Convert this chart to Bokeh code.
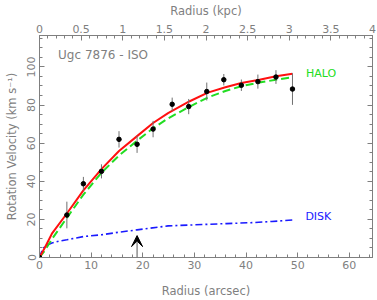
from bokeh.plotting import figure
from bokeh.models import (Range1d, LinearAxis, SingleIntervalTicker, Arrow, VeeHead,
                          CustomLabelingPolicy)
from bokeh.core.properties import value
from bokeh.embed import file_html
from bokeh.resources import INLINE

# observed rotation curve (arcsec, km/s, error)
obs_r = [0.0, 5.3, 8.5, 12.0, 15.4, 18.9, 22.0, 25.7, 28.9, 32.4, 35.7, 39.1, 42.3, 45.8, 49.0]
obs_v = [0.0, 22.3, 38.7, 45.2, 62.0, 59.4, 67.4, 80.4, 79.2, 87.1, 93.3, 90.4, 92.3, 94.7, 88.4]
obs_e = [0.0, 7.0, 3.6, 3.7, 4.3, 4.5, 4.3, 3.5, 4.0, 4.7, 3.0, 3.0, 3.7, 3.6, 8.3]

# total model (red)
tot_r = [0.0, 1.0, 2.4, 5.3, 8.5, 12.0, 15.4, 18.9, 22.0, 24.9, 29.1, 32.6, 36.0, 39.1, 42.6, 45.8, 49.0]
tot_v = [0.0, 5.0, 12.5, 23.1, 35.2, 46.4, 55.9, 63.7, 70.6, 75.8, 82.0, 86.5, 89.3, 91.6, 93.3, 95.1, 96.4]

# halo model (green dashed)
halo_r = [0.0, 1.0, 2.5, 5.3, 8.5, 12.0, 15.4, 18.9, 22.0, 24.9, 29.1, 32.6, 36.0, 39.1, 42.6, 45.8, 48.6]
halo_v = [0.0, 3.5, 10.0, 20.8, 33.0, 44.5, 53.5, 61.3, 67.8, 73.0, 79.2, 84.0, 87.4, 89.9, 91.8, 93.3, 94.4]

# disk model (blue dash-dot)
disk_r = [0.0, 0.4, 0.8, 1.5, 2.4, 3.8, 5.3, 8.5, 12.0, 15.4, 18.9, 24.9, 29.7, 36.2, 41.3, 45.0, 49.0]
disk_v = [0.0, 3.0, 5.0, 6.5, 7.6, 8.6, 9.3, 11.0, 11.9, 13.3, 14.5, 16.6, 17.1, 17.8, 18.3, 18.9, 19.7]

# optical radius marker (arcsec) and arrow tip (km/s)
marker_r = 18.9
marker_top = 11.5

kpc_range = (0, 4)

GRAY = "#7f7f7f"
FONT = "DejaVu Sans"

p = figure(width=377, height=300, output_backend="svg", toolbar_location=None,
           x_range=Range1d(0, 64.5), y_range=Range1d(0, 116.5),
           min_border_left=39, min_border_right=3, min_border_top=33, min_border_bottom=42,
           x_axis_location=None, y_axis_location=None)
p.grid.visible = False
p.outline_line_color = GRAY
p.outline_line_width = 1
p.background_fill_color = "white"
p.border_fill_color = "white"

p.extra_x_ranges = {"kpc": Range1d(*kpc_range)}


def style(ax, size="11px"):
    ax.axis_line_color = GRAY
    ax.major_tick_line_color = GRAY
    ax.minor_tick_line_color = GRAY
    ax.major_tick_in = 5
    ax.major_tick_out = 0
    ax.minor_tick_in = 3
    ax.minor_tick_out = 0
    ax.major_label_text_color = GRAY
    ax.major_label_text_font = FONT
    ax.major_label_text_font_size = size
    ax.axis_label_text_color = GRAY
    ax.axis_label_text_font = FONT
    ax.axis_label_text_font_size = "11.5px"
    ax.axis_label_text_font_style = "normal"
    ax.major_label_standoff = 4
    ax.axis_label_standoff = 4


bottom = LinearAxis(ticker=SingleIntervalTicker(interval=10, num_minor_ticks=5),
                    axis_label="Radius (arcsec)")
style(bottom)
bottom.major_label_standoff = 3
bottom.axis_label_standoff = 12
p.add_layout(bottom, "below")

top = LinearAxis(x_range_name="kpc", ticker=SingleIntervalTicker(interval=0.5, num_minor_ticks=5),
                 axis_label="Radius (kpc)")
style(top)
top.major_label_standoff = 3
top.axis_label_standoff = 4
p.add_layout(top, "above")

left = LinearAxis(ticker=SingleIntervalTicker(interval=20, num_minor_ticks=4),
                  axis_label="Rotation Velocity (km s\u207b\u00b9)")
style(left)
left.major_label_orientation = "vertical"
left.major_label_standoff = 4
left.axis_label_standoff = 6
p.add_layout(left, "left")

right = LinearAxis(ticker=SingleIntervalTicker(interval=20, num_minor_ticks=4),
                   major_label_policy=CustomLabelingPolicy(code="return new Set()"))
style(right, size="1px")
right.major_label_standoff = 0
p.add_layout(right, "right")

# models
p.line(disk_r, disk_v, line_color="#1a1aff", line_width=1.6, line_dash="7 3 2 3")
p.line(halo_r, halo_v, line_color="#22dd22", line_width=2, line_dash="8 4")
p.line(tot_r, tot_v, line_color="#ff1010", line_width=2)

# observations
y0 = [v - e for v, e in zip(obs_v, obs_e)]
y1 = [v + e for v, e in zip(obs_v, obs_e)]
p.segment(x0=obs_r, y0=y0, x1=obs_r, y1=y1, line_color="#707070", line_width=1)
p.scatter(obs_r, obs_v, size=4.5, color="black")

# arrow
p.add_layout(Arrow(end=VeeHead(size=11, fill_color="black", line_color="black", line_width=1),
                   x_start=marker_r, y_start=0, x_end=marker_r, y_end=marker_top,
                   line_color="#555555", line_width=1))

# labels
p.text(x=[3.6], y=[106.3], text=["Ugc 7876 - ISO"], text_color=GRAY,
       text_font=value(FONT), text_font_size="12px", text_baseline="middle")
p.text(x=[51.6], y=[96.4], text=["HALO"], text_color="#22dd22",
       text_font=value(FONT), text_font_size="11px", text_baseline="middle")
p.text(x=[51.5], y=[21.4], text=["DISK"], text_color="#1a1aff",
       text_font=value(FONT), text_font_size="11px", text_baseline="middle")

open("out.html", "w").write(file_html(p, INLINE))
